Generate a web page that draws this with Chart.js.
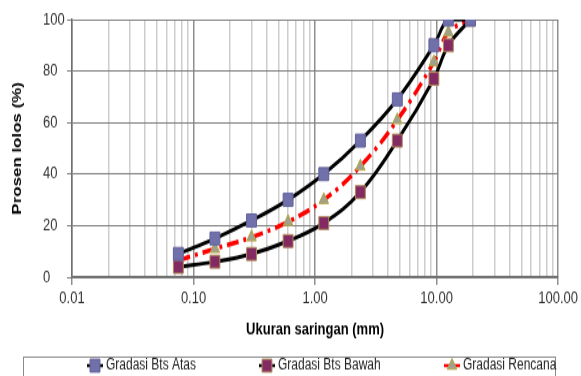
<!DOCTYPE html>
<html>
<head>
<meta charset="utf-8">
<script src="https://cdn.jsdelivr.net/npm/chart.js@4.4.1/dist/chart.umd.min.js"></script>
<style>
  body { margin: 0; background: #fff; }
  #chart { display: block; }
</style>
</head>
<body>
<!-- drawn at 581x289 and stretched to 376 tall, like the reference -->
<canvas id="chart" width="581" height="289" style="width:581px;height:376px"></canvas>
<script>
const sieveSizes = [0.075, 0.15, 0.3, 0.6, 1.18, 2.36, 4.75, 9.5, 12.5, 19];
const upperLimit = [9, 15, 22, 30, 40, 53, 69, 90, 100, 100];
const lowerLimit = [4, 6, 9, 14, 21, 33, 53, 77, 90, 100];
const designGrad = [6.5, 11, 15.5, 21.5, 30, 43, 61, 83.5, 95, 100];
const seriesNames = ['Gradasi Bts Atas', 'Gradasi Bts Bawah', 'Gradasi Rencana'];
const xTickLabels = ['0.01', '0.10', '1.00', '10.00', '100.00'];
const yTicks = [0, 20, 40, 60, 80, 100];

const FONT = 'Liberation Sans, Arial, sans-serif';

function pts(vals) {
  return sieveSizes.map((s, i) => ({ x: s, y: vals[i] }));
}
function isDecade(v) {
  const l = Math.log10(v);
  return Math.abs(l - Math.round(l)) < 1e-9;
}

// box legend under the axis title
const boxLegend = {
  id: 'boxLegend',
  afterDraw(chart) {
    const ctx = chart.ctx;
    ctx.save();
    ctx.strokeStyle = '#8c8c8c';
    ctx.lineWidth = 1;
    ctx.strokeRect(23.5, 274.5, 532, 20);
    const xs = [95, 267, 452];
    const y = 281;
    chart.data.datasets.forEach((ds, i) => {
      const x = xs[i];
      ctx.strokeStyle = ds.borderColor;
      ctx.lineWidth = 2.5;
      ctx.setLineDash([]);
      ctx.beginPath();
      ctx.moveTo(x - 8, y);
      ctx.lineTo(x + 8, y);
      ctx.stroke();
      ctx.fillStyle = ds.pointBackgroundColor;
      ctx.strokeStyle = ds.pointBorderColor;
      ctx.lineWidth = 1;
      Chart.helpers.drawPoint(ctx, {
        pointStyle: ds.pointStyle, radius: ds.pointRadius, borderWidth: 1
      }, x, y);
      ctx.fillStyle = '#222';
      ctx.font = '12px ' + FONT;
      ctx.textBaseline = 'middle';
      ctx.textAlign = 'left';
      ctx.fillText(ds.label, x + 11, y);
    });
    ctx.restore();
  }
};

new Chart(document.getElementById('chart'), {
  type: 'scatter',
  data: {
    datasets: [{
      label: seriesNames[0],
      data: pts(upperLimit),
      showLine: true,
      borderColor: '#000',
      borderWidth: 3,
      tension: 0.4,
      pointStyle: 'rect',
      pointRadius: 7,
      pointBackgroundColor: '#7070aa',
      pointBorderColor: '#60609a',
      pointBorderWidth: 1
    }, {
      label: seriesNames[1],
      data: pts(lowerLimit),
      showLine: true,
      borderColor: '#000',
      borderWidth: 3,
      tension: 0.4,
      pointStyle: 'rect',
      pointRadius: 7,
      pointBackgroundColor: '#832a62',
      pointBorderColor: '#b08a5a',
      pointBorderWidth: 1
    }, {
      label: seriesNames[2],
      data: pts(designGrad),
      showLine: true,
      borderColor: '#ff0000',
      borderWidth: 3.5,
      borderDash: [12, 5, 3, 5],
      tension: 0.4,
      pointStyle: 'triangle',
      pointRadius: 5.5,
      pointBackgroundColor: '#a0a090',
      pointBorderColor: '#b4a640',
      pointBorderWidth: 1
    }]
  },
  options: {
    responsive: false,
    animation: false,
    layout: { padding: { left: 43, right: 22, top: 15, bottom: 28 } },
    plugins: { legend: { display: false }, tooltip: { enabled: false } },
    scales: {
      x: {
        type: 'logarithmic',
        min: 0.01,
        max: 100,
        afterBuildTicks: s => {
          const t = [];
          for (let e = -2; e <= 2; e++) {
            for (let m = 1; m <= 9; m++) {
              const v = m * Math.pow(10, e);
              if (v <= 100.0001) t.push({ value: v, major: m === 1 });
            }
          }
          s.ticks = t;
        },
        afterFit: s => { s.height = 48; },
        ticks: {
          autoSkip: false,
          maxRotation: 0,
          padding: 3,
          color: '#333',
          font: { family: FONT, size: 13 },
          callback: v => isDecade(v) ? xTickLabels[Math.round(Math.log10(v)) + 2] : ''
        },
        grid: {
          tickLength: 6,
          lineWidth: 1.5,
          color: c => isDecade(c.tick.value) ? '#8f8f8f' : '#cdcdcd',
          tickColor: c => isDecade(c.tick.value) ? '#8f8f8f' : 'rgba(0,0,0,0)'
        },
        border: { color: '#707070', width: 1.5 },
        title: {
          display: true,
          text: 'Ukuran saringan (mm)',
          color: '#000',
          padding: { top: 0, bottom: 0 },
          font: { family: FONT, size: 13, weight: 'bold' }
        }
      },
      y: {
        min: 0,
        max: 100,
        afterBuildTicks: s => { s.ticks = yTicks.map(v => ({ value: v })); },
        afterFit: s => { s.width = 29; },
        ticks: {
          crossAlign: 'far',
          color: '#333',
          font: { family: FONT, size: 13 }
        },
        grid: { tickLength: 5, color: '#7f7f7f', lineWidth: 1 },
        border: { color: '#707070', width: 1.5 },
        title: {
          display: true,
          text: 'Prosen lolos (%)',
          color: '#000',
          padding: { top: -33, bottom: 0 },
          font: { family: FONT, size: 13, weight: 'bold' }
        }
      }
    }
  },
  plugins: [boxLegend]
});
</script>
</body>
</html>
